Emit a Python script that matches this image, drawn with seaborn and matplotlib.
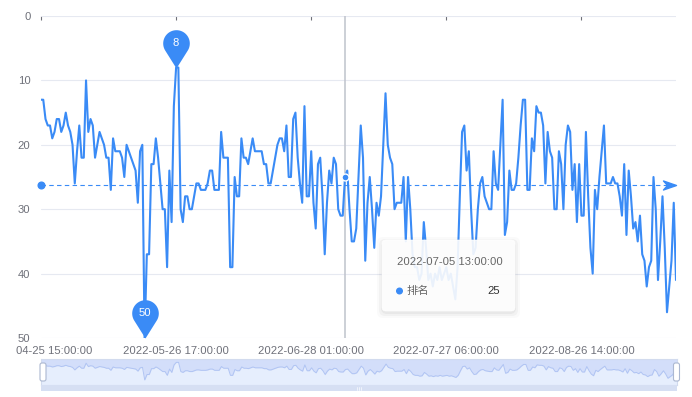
import numpy as np
import pandas as pd
import matplotlib
matplotlib.use('Agg')
import matplotlib.pyplot as plt
from matplotlib.path import Path
from matplotlib.patches import FancyBboxPatch, Circle
from matplotlib.transforms import IdentityTransform
import seaborn as sns

# category ticks shown on the axis (every 60th point)
tick_pos = [0, 60, 120, 180, 240]
tick_labels = ['2022-04-25 15:00:00', '2022-05-26 17:00:00', '2022-06-28 01:00:00',
               '2022-07-27 06:00:00', '2022-08-26 14:00:00']
hover_idx = 135
hover_label = '2022-07-05 13:00:00'
series_name = '排名'

ranks = [
    13, 13, 16, 17, 17, 19, 18, 16, 16, 18,
    17, 15, 17, 18, 20, 26, 21, 17, 22, 22,
    10, 18, 16, 17, 22, 20, 18, 19, 20, 22,
    22, 27, 19, 21, 21, 21, 22, 25, 20, 21,
    22, 23, 24, 29, 21, 20, 50, 37, 37, 23,
    23, 19, 22, 26, 30, 30, 39, 24, 32, 14,
    8, 8, 30, 32, 28, 28, 30, 30, 28, 26,
    26, 27, 27, 27, 26, 24, 24, 27, 27, 27,
    18, 22, 22, 22, 39, 39, 25, 28, 28, 19,
    22, 22, 23, 21, 19, 21, 21, 21, 21, 23,
    23, 26, 26, 24, 22, 20, 19, 19, 21, 17,
    25, 25, 16, 15, 22, 26, 29, 14, 28, 28,
    21, 29, 33, 23, 22, 28, 37, 29, 24, 26,
    22, 23, 30, 31, 31, 25, 24, 30, 35, 35,
    33, 25, 17, 22, 38, 29, 25, 30, 36, 29,
    31, 28, 20, 12, 20, 22, 23, 30, 29, 29,
    29, 25, 35, 25, 30, 37, 39, 39, 41, 40,
    32, 36, 41, 40, 42, 40, 41, 39, 41, 40,
    39, 41, 40, 42, 44, 39, 28, 18, 17, 24,
    21, 30, 37, 36, 30, 26, 25, 28, 29, 30,
    30, 21, 26, 27, 20, 13, 34, 32, 24, 27,
    27, 26, 22, 17, 13, 13, 27, 27, 19, 21,
    14, 15, 15, 17, 26, 18, 21, 22, 30, 30,
    21, 23, 30, 20, 17, 18, 27, 23, 32, 23,
    31, 31, 18, 28, 36, 40, 27, 30, 25, 21,
    17, 26, 26, 26, 25, 26, 26, 28, 31, 23,
    34, 24, 28, 33, 32, 35, 31, 37, 38, 42,
    39, 38, 25, 30, 41, 35, 28, 36, 46, 42,
    38, 29, 41,
]

W, H = 692, 397
PT = 0.72  # points per pixel at dpi 100
BLUE = '#3a8bf6'
GREY = '#6e7079'

df = pd.DataFrame({'i': np.arange(len(ranks)), 'rank': ranks})
n = len(df)

sns.set_theme(style='white')
plt.rcParams['font.family'] = ['Liberation Sans', 'Noto Sans CJK SC']


def box(x0, y0, x1, y1):
    # image pixel box (y down) -> figure fraction rect
    return [x0 / W, 1 - y1 / H, (x1 - x0) / W, (y1 - y0) / H]


def pin_marker():
    r, cy = 13.3, 25.0
    a = np.degrees(np.arccos(r / cy))
    th = np.radians(np.linspace(-90 + a, 270 - a, 60))
    verts = [(0, 0)] + list(zip(r * np.cos(th), cy + r * np.sin(th))) + [(0, 0)]
    codes = [Path.MOVETO] + [Path.LINETO] * 60 + [Path.CLOSEPOLY]
    return Path(verts, codes), 2 * (cy + r) * PT


def arrow_marker():
    verts = [(0, 0), (-13, 4.5), (-9, 0), (-13, -4.5), (0, 0)]
    codes = [Path.MOVETO, Path.LINETO, Path.LINETO, Path.LINETO, Path.CLOSEPOLY]
    return Path(verts, codes), 2 * 13 * PT


fig = plt.figure(figsize=(W / 100, H / 100), dpi=100)
ax = fig.add_axes(box(41, 16, 676, 338))

sns.lineplot(data=df, x='i', y='rank', ax=ax, color=BLUE, lw=1.5, zorder=3)

ax.set_xlim(0, n - 1)
ax.set_ylim(50, 0)
ax.set_yticks(range(0, 51, 10))
ax.yaxis.grid(True, color='#e6e9f1', lw=0.8)
ax.set_axisbelow(True)
ax.set_xticks(tick_pos)
# the first label overflows the chart's left edge, only its tail is visible
ax.set_xticklabels([''] + tick_labels[1:])
ax.annotate(tick_labels[0][5:], (0, 0), xycoords=('data', 'axes fraction'),
            xytext=(51 * PT, -8 * PT), textcoords='offset points', ha='right', va='top',
            fontsize=8.1, color=GREY)
ax.tick_params(axis='x', top=True, bottom=False, labelbottom=True, direction='in',
               length=3, width=0.8, color=GREY, pad=6, labelsize=8.1, labelcolor=GREY)
ax.tick_params(axis='y', left=False, length=0, pad=7.5, labelsize=8.1, labelcolor=GREY)
ax.set_xlabel('')
ax.set_ylabel('')
for s in ax.spines.values():
    s.set_visible(False)

# average mark line
avg = float(np.mean(ranks))
ax.plot([0, n - 1], [avg, avg], color=BLUE, lw=0.8, ls=(0, (4, 3)), zorder=4)
ax.plot(0, avg, 'o', ms=4.8, color=BLUE, clip_on=False, zorder=5)
arr, arr_size = arrow_marker()
ax.plot(n - 1, avg, marker=arr, ms=arr_size, color=BLUE, lw=0, clip_on=False, zorder=5)

# max / min mark points (rank axis is inverted)
pin, pin_size = pin_marker()
for idx in (int(np.argmin(ranks)), int(np.argmax(ranks))):
    v = ranks[idx]
    ax.plot(idx, v, marker=pin, ms=pin_size, color=BLUE, mec='none', lw=0,
            clip_on=False, zorder=6)
    ax.annotate(str(v), (idx, v), xytext=(0, 25 * PT), textcoords='offset points',
                ha='center', va='center', color='white', fontsize=8.1, zorder=7)

# hover state
ax.axvline(hover_idx, color='#bfc3cc', lw=1.1, zorder=2)
ax.plot(hover_idx, ranks[hover_idx], 'o', ms=5, mfc=BLUE, mec='white', mew=1, zorder=6)

# tooltip
ident = IdentityTransform()
for k, a in [(6, 0.02), (4, 0.03), (2, 0.04)]:
    fig.add_artist(FancyBboxPatch((382 - k + 1, H - 311 - k - 1), 133 + 2 * k - 2, 71 + 2 * k - 2,
                                  boxstyle='round,pad=0,rounding_size=6', transform=ident,
                                  fc='black', ec='none', alpha=a))
fig.add_artist(FancyBboxPatch((382, H - 311), 133, 71, boxstyle='round,pad=0,rounding_size=4',
                              transform=ident, fc='white', ec='white', lw=0.5, alpha=0.9))
fig.text(397 / W, 1 - 262 / H, hover_label, ha='left', va='center', color='#666666', fontsize=8.1)
fig.add_artist(Circle((399.5, H - 291), 2.8, transform=ident, color=BLUE))
fig.text(407 / W, 1 - 291 / H, series_name, ha='left', va='center', color='#666666', fontsize=8.1)
fig.text(500 / W, 1 - 291 / H, str(ranks[hover_idx]), ha='right', va='center',
         color='#333333', fontsize=8.1)

# data zoom slider
sax = fig.add_axes(box(41, 359, 677, 385))
sax.set_facecolor('#e6eefd')
sax.fill_between(df['i'], 0, df['rank'], color='#d3defa', lw=0)
sns.lineplot(data=df, x='i', y='rank', ax=sax, color='#b0c4f3', lw=0.7)
sax.set_xlim(0, n - 1)
sax.set_ylim(62, 0)
sax.set_xticks([])
sax.set_yticks([])
sax.set_xlabel('')
sax.set_ylabel('')
for s in sax.spines.values():
    s.set_color('#d2dbee')
    s.set_linewidth(0.8)

bax = fig.add_axes(box(41, 385, 677, 391))
bax.set_facecolor('#d6dff3')
bax.set_xticks([])
bax.set_yticks([])
for s in bax.spines.values():
    s.set_visible(False)
for dx in (-2, 0, 2):
    bax.axvline(0.5 + dx / 636, ymin=0.25, ymax=0.75, color='#f4f7fd', lw=0.6)

for hx in (40, 673.5):
    fig.add_artist(FancyBboxPatch((hx, H - 381), 6, 18, boxstyle='round,pad=0,rounding_size=2',
                                  transform=ident, fc='white', ec='#acb8d1', lw=0.8))

fig.savefig('out.png', dpi=100)
